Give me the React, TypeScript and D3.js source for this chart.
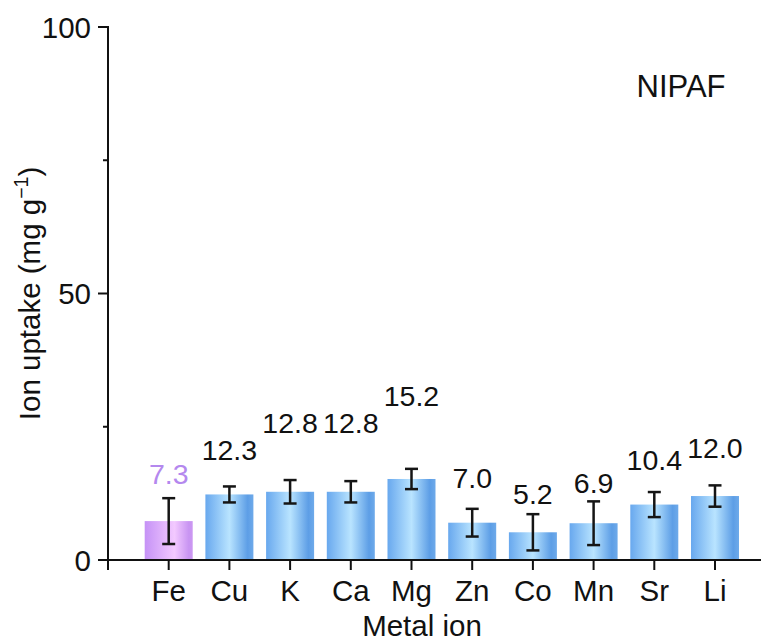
import React from "react";
import * as d3 from "d3";

// Metal ions tested and their uptake (mg g^-1) on NIPAF
const ions = ["Fe", "Cu", "K", "Ca", "Mg", "Zn", "Co", "Mn", "Sr", "Li"];
const uptake = [7.3, 12.3, 12.8, 12.8, 15.2, 7.0, 5.2, 6.9, 10.4, 12.0];
const uptakeErr = [4.3, 1.5, 2.2, 2.0, 1.9, 2.6, 3.4, 4.1, 2.35, 2.0];
// height (in data units) at which each value label sits
const labelHeights = [14.3, 18.8, 23.9, 23.9, 28.8, 13.5, 10.5, 12.6, 16.9, 19.2];
const yMajorTicks = [0, 50, 100];
const yMinorTicks = [25, 75];

const W = 761;
const H = 644;
const FONT = "'Liberation Sans', Arial, Helvetica, sans-serif";

export default function App() {
  const x = d3.scaleLinear().domain([0, ions.length + 1]).range([108, 108 + 60.7 * (ions.length + 1)]);
  const y = d3.scaleLinear().domain([0, 100]).range([560, 27]);
  const barW = 48;
  const capW = 13;

  return (
    <svg
      width={W}
      height={H}
      viewBox={`0 0 ${W} ${H}`}
      style={{ position: "absolute", left: 0, top: 0, background: "#fff" }}
      fontFamily={FONT}
    >
      <defs>
        <linearGradient id="gBlue" x1="0" x2="1" y1="0" y2="0">
          <stop offset="0" stopColor="#68a8ee" />
          <stop offset="0.5" stopColor="#b9e4ff" />
          <stop offset="0.88" stopColor="#5d9ee6" />
          <stop offset="1" stopColor="#6eaaea" />
        </linearGradient>
        <linearGradient id="gPurple" x1="0" x2="1" y1="0" y2="0">
          <stop offset="0" stopColor="#c592f6" />
          <stop offset="0.62" stopColor="#f3c9ff" />
          <stop offset="0.92" stopColor="#c894f2" />
          <stop offset="1" stopColor="#cc98f2" />
        </linearGradient>
      </defs>

      {/* bars */}
      {ions.map((ion, i) => {
        const cx = x(i + 1);
        return (
          <rect
            key={ion}
            x={cx - barW / 2}
            y={y(uptake[i])}
            width={barW}
            height={y(0) - y(uptake[i])}
            fill={i === 0 ? "url(#gPurple)" : "url(#gBlue)"}
          />
        );
      })}

      {/* error bars */}
      {ions.map((ion, i) => {
        const cx = x(i + 1);
        const hi = y(uptake[i] + uptakeErr[i]);
        const lo = y(uptake[i] - uptakeErr[i]);
        return (
          <g key={`e-${ion}`} stroke="#151515" strokeWidth={2.5}>
            <line x1={cx} x2={cx} y1={hi} y2={lo} />
            <line x1={cx - capW / 2} x2={cx + capW / 2} y1={hi} y2={hi} />
            <line x1={cx - capW / 2} x2={cx + capW / 2} y1={lo} y2={lo} />
          </g>
        );
      })}

      {/* value labels */}
      {ions.map((ion, i) => (
        <text
          key={`v-${ion}`}
          x={x(i + 1)}
          y={y(labelHeights[i])}
          textAnchor="middle"
          fontSize={28.5}
          fill={i === 0 ? "#b488ee" : "#111"}
        >
          {uptake[i].toFixed(1)}
        </text>
      ))}

      {/* y axis */}
      <line x1={108} x2={108} y1={y(100) - 1} y2={y(0)} stroke="#111" strokeWidth={2} />
      {yMajorTicks.map((t) => (
        <g key={`ym-${t}`}>
          <line x1={98} x2={108} y1={y(t)} y2={y(t)} stroke="#111" strokeWidth={2} />
          <text x={91} y={y(t)} dy="0.36em" textAnchor="end" fontSize={29.5} fill="#111">
            {t}
          </text>
        </g>
      ))}
      {yMinorTicks.map((t) => (
        <line key={`yn-${t}`} x1={103} x2={108} y1={y(t)} y2={y(t)} stroke="#111" strokeWidth={2} />
      ))}

      {/* x axis */}
      <line x1={107} x2={W} y1={y(0)} y2={y(0)} stroke="#111" strokeWidth={2} />
      <line x1={x(0)} x2={x(0)} y1={y(0)} y2={y(0) + 10} stroke="#111" strokeWidth={2} />
      {ions.map((ion, i) => (
        <g key={`xt-${ion}`}>
          <line x1={x(i + 1)} x2={x(i + 1)} y1={y(0)} y2={y(0) + 10} stroke="#111" strokeWidth={2} />
          <text x={x(i + 1)} y={601} textAnchor="middle" fontSize={29.5} fill="#111">
            {ion}
          </text>
        </g>
      ))}

      {/* axis titles */}
      <text x={422} y={636} textAnchor="middle" fontSize={29.5} fill="#111">
        Metal ion
      </text>
      <text
        transform={`translate(40, ${y(50)}) rotate(-90)`}
        textAnchor="middle"
        fontSize={29.5}
        fill="#111"
      >
        Ion uptake (mg g
        <tspan fontSize={19.5} dy={-12}>−1</tspan>
        <tspan dy={12}>)</tspan>
      </text>

      {/* sample name */}
      <text x={681} y={97} textAnchor="middle" fontSize={31} fill="#111">
        NIPAF
      </text>
    </svg>
  );
}
